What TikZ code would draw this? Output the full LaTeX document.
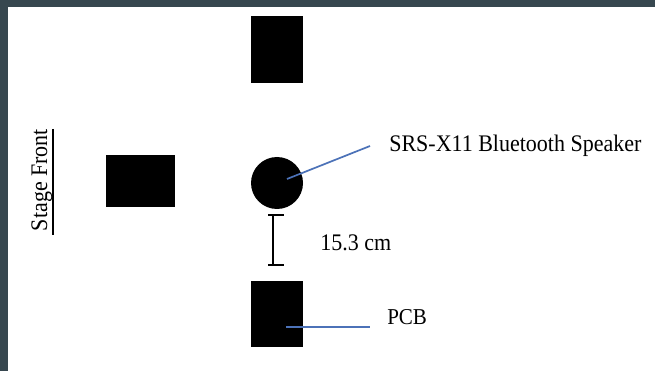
\documentclass[tikz,border=0pt]{standalone}
\usepackage{fontspec}
\setmainfont{Liberation Serif}
\usetikzlibrary{positioning}
\definecolor{frame}{RGB}{55,71,79}
\definecolor{leader}{RGB}{76,114,184}

\begin{document}
\begin{tikzpicture}[
            x = 1pt, y = -1pt, % pixel grid, y down
            semithick
        ]

        \tikzstyle{block}=[
            fill = black,
            draw = none,
            inner sep = 0pt
        ]
        \tikzstyle{label}=[
            font = \fontsize{22}{26}\selectfont,
            inner sep = 0pt,
            anchor = base west,
            yscale = 1.08, transform shape
        ]
        \tikzstyle{pointer}=[
            draw = leader,
            line width = 1.7pt
        ]

        % background and frame
        \fill[frame] (0,0) rectangle (655,371);
        \fill[white] (8,7) rectangle (655,371);
        \useasboundingbox (0,0) rectangle (655,371);

        \node[block, minimum width = 52pt, minimum height = 67pt] (top) at (277,49.5) {};
        \node[block, minimum width = 69pt, minimum height = 52pt] (side) at (140.5,181) {};
        \node[block, circle, minimum size = 52pt] (speaker) at (277,183) {};
        \node[block, minimum width = 52pt, minimum height = 66pt] (pcb) at (277,314) {};

        \node[label] (speakerlab) at (389,152) {SRS-X11 Bluetooth Speaker};
        \node[label] (distlab) at (320,251) {15.3 cm};
        \node[label, font = \fontsize{21}{25}\selectfont] (pcblab) at (387,324) {PCB};
        \node[label, yscale = 1/1.08, xscale = 1.08, anchor = base, rotate = 90] (stage) at (47,180) {Stage Front};

        \coordinate (speakerpin) at (287,179);
        \coordinate (speakerend) at (370,146);
        \coordinate (pcbpin) at (286,327);
        \coordinate (pcbend) at (370,327);

        \path[pointer] (speakerpin) edge (speakerend);
        \path[pointer] (pcbpin) edge (pcbend);

        % distance bar
        \coordinate (bartop) at (273,215);
        \coordinate (barbot) at (273,265);
        \draw[line width = 1.7pt] (bartop) -- (barbot);
        \draw[line width = 1.7pt] ([xshift = -5pt]bartop) -- ([xshift = 11pt]bartop);
        \draw[line width = 1.7pt] ([xshift = -5pt]barbot) -- ([xshift = 11pt]barbot);

        % underline of stage front
        \coordinate (ulstart) at (53,129);
        \coordinate (ulend) at (53,235);
        \draw[line width = 1.3pt] (ulstart) -- (ulend);

    \end{tikzpicture}
\end{document}
